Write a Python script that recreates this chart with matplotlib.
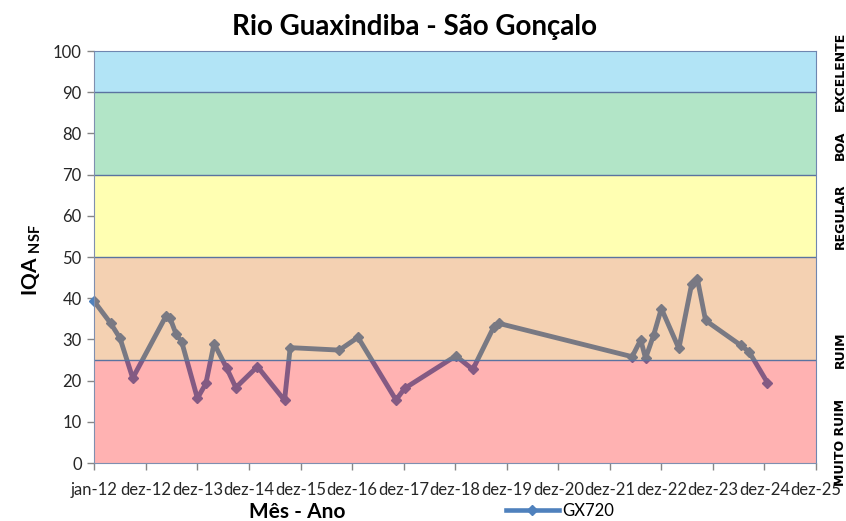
import numpy as np
import pandas as pd
import matplotlib
matplotlib.use("Agg")
from matplotlib import pyplot as plt
from matplotlib.lines import Line2D

# dados (GX720)
datas = [
    "2012-01-01", "2012-04-26", "2012-07-01", "2012-09-29", "2013-05-23",
    "2013-06-20", "2013-08-02", "2013-09-11", "2013-12-31", "2014-03-01",
    "2014-04-28", "2014-07-27", "2014-09-29", "2015-03-01", "2015-09-09",
    "2015-10-19", "2016-10-01", "2017-02-10", "2017-11-06", "2018-01-06",
    "2019-01-04", "2019-05-04", "2019-09-29", "2019-11-03", "2022-06-05",
    "2022-08-05", "2022-09-08", "2022-11-05", "2022-12-29", "2023-05-02",
    "2023-08-01", "2023-09-10", "2023-11-07", "2024-07-12", "2024-09-10",
    "2025-01-18",
]
iqa = [
    39.2, 33.9, 30.3, 20.6, 35.7,
    35.2, 31.3, 29.4, 15.7, 19.3,
    29.0, 23.0, 18.3, 23.4, 15.2,
    28.0, 27.4, 30.5, 15.3, 18.1,
    26.0, 22.7, 33.0, 33.9, 25.8,
    29.9, 25.4, 31.1, 37.5, 27.8,
    43.5, 44.7, 34.6, 28.6, 27.0,
    19.5,
]

# faixas de qualidade
faixas_lim = [(0, 25), (25, 50), (50, 70), (70, 90), (90, 100)]
faixas_cor = ["#ff0000", "#dc6900", "#ffff00", "#00ac48", "#00a8e4"]
faixas_nome = ["MUITO RUIM", "RUIM", "REGULAR", "BOA", "EXCELENTE"]
faixas_pos = [5, 27.5, 60, 77, 95]

rotulos_x = ["jan-12", "dez-12", "dez-13", "dez-14", "dez-15", "dez-16", "dez-17",
             "dez-18", "dez-19", "dez-20", "dez-21", "dez-22", "dez-23", "dez-24",
             "dez-25"]

plt.rcParams['font.family'] = ['Lato', 'DejaVu Sans']
plt.rcParams['mathtext.fontset'] = 'custom'
plt.rcParams['mathtext.bf'] = 'Lato:bold'
plt.rcParams['mathtext.rm'] = 'Lato'

inicio = pd.Timestamp("2012-01-01")
x = (pd.to_datetime(datas) - inicio).days.values
ticks_x = np.arange(len(rotulos_x)) * 365

fig = plt.figure(figsize=(8.46, 5.21), dpi=100)
ax = fig.add_axes([94.3 / 846, 58 / 521, (816 - 94.3) / 846, 412 / 521])

# linha da série (por baixo das faixas transparentes)
ax.plot(x, iqa, color='#4f81bd', linewidth=3.5, marker='D', markersize=5.5,
        clip_on=False, zorder=2)

for (lo, hi), cor in zip(faixas_lim, faixas_cor):
    ax.axhspan(lo, hi, facecolor=cor, alpha=0.3, edgecolor='none', zorder=3)
for lim in [25, 50, 70, 90]:
    ax.axhline(lim, color='#5a73a0', linewidth=1, zorder=4)

ax.set_xlim(0, ticks_x[-1])
ax.set_ylim(0, 100)
ax.set_xticks(ticks_x)
ax.set_xticklabels(rotulos_x)
ax.set_yticks(range(0, 101, 10))
ax.tick_params(axis='both', direction='out', length=5, width=1,
               color='#868686', labelsize=12, labelcolor='#262626')
ax.tick_params(axis='x', pad=9)
ax.tick_params(axis='y', pad=4)
for lado in ['left', 'bottom']:
    ax.spines[lado].set_color('#7f8fb0')
for lado in ['right', 'top']:
    ax.spines[lado].set_color('#6f86b0')
for s in ax.spines.values():
    s.set_zorder(5)

fig.text(0.49, 0.948, 'Rio Guaxindiba - São Gonçalo', ha='center', va='center',
         fontsize=20, fontweight='bold')
fig.text(0.038, 0.5, r'IQA $_{\mathbf{NSF}}$', rotation=90, ha='center', va='center',
         fontsize=15, fontweight='bold')
fig.text(297 / 846, 1 - 512 / 521, 'Mês - Ano', ha='center', va='center',
         fontsize=15, fontweight='bold')

for nome, pos in zip(faixas_nome, faixas_pos):
    yfig = ax.transData.transform((0, pos))[1] / fig.bbox.height
    fig.text(840 / 846, yfig, nome, rotation=90, ha='center', va='center',
             fontsize=9, fontweight='bold', family='DejaVu Sans')

handle = Line2D([], [], color='#4f81bd', linewidth=3.3, marker='D', markersize=5.5)
fig.legend([handle], ['GX720'], loc='center', bbox_to_anchor=(560 / 846, 1 - 511 / 521),
           frameon=False, fontsize=12, handlelength=3.2, handletextpad=0.2)

fig.savefig('out.png', dpi=100)
